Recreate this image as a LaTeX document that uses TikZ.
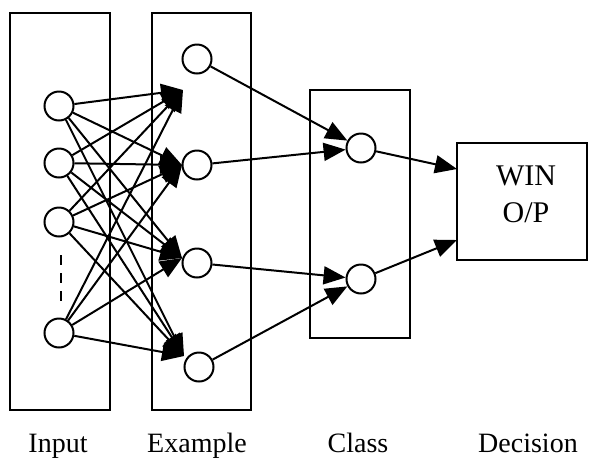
\documentclass[tikz,border=0pt]{standalone}
\usepackage{fontspec}
\setmainfont{Liberation Serif}
\usetikzlibrary{arrows.meta}
\begin{document}
\begin{tikzpicture}[x=1pt,y=-1pt,
  box/.style={draw,line width=2.2pt},
  neuron/.style={draw,circle,line width=2pt,minimum size=29pt,inner sep=0pt},
  conn/.style={line width=2pt,-{Triangle[length=22pt,width=18pt]}},
  lab/.style={font=\fontsize{28}{32}\selectfont,anchor=base}]
\useasboundingbox (0,0) rectangle (590,459);
\fill[white] (0,0) rectangle (590,459);
% boxes
\draw[box] (10,13) rectangle (110,410);
\draw[box] (152,13) rectangle (251,410);
\draw[box] (310,90) rectangle (410,338);
\draw[box] (457,143) rectangle (587,260);
\node[font=\fontsize{30}{37}\selectfont,align=center] (win) at (526,194) {WIN\\O/P};
% input neurons
\node[neuron] (i1) at (59,106) {};
\node[neuron] (i2) at (59,163) {};
\node[neuron] (i3) at (59,222) {};
\node[neuron] (i4) at (59,333) {};
\draw[line width=2.2pt,dash pattern=on 10pt off 8pt] (61,255) -- (61,301);
% example neurons
\node[neuron] (e1) at (197,59) {};
\node[neuron] (e2) at (197,165) {};
\node[neuron] (e3) at (197,263) {};
\node[neuron] (e4) at (199,367) {};
\coordinate (t1) at (183,90);
\coordinate (t2) at (182,165);
\coordinate (t3) at (182,258);
\coordinate (t4) at (184,356);
% class neurons
\node[neuron] (c1) at (361,148) {};
\node[neuron] (c2) at (361,279) {};
\coordinate (w1) at (457,169);
\coordinate (w2) at (457,240);
% connections
\foreach \i in {i1,i2,i3,i4}{
  \foreach \t in {t1,t2,t3,t4}{
    \draw[conn] (\i) -- (\t);
  }
}
\draw[conn] (e1) -- (c1);
\draw[conn] (e2) -- (c1);
\draw[conn] (e3) -- (c2);
\draw[conn] (e4) -- (c2);
\draw[conn] (c1) -- (w1);
\draw[conn] (c2) -- (w2);
% labels
\node[lab] (l1) at (58,452) {Input};
\node[lab] (l2) at (197,452) {Example};
\node[lab] (l3) at (358,452) {Class};
\node[lab] (l4) at (528,452) {Decision};
\end{tikzpicture}
\end{document}
